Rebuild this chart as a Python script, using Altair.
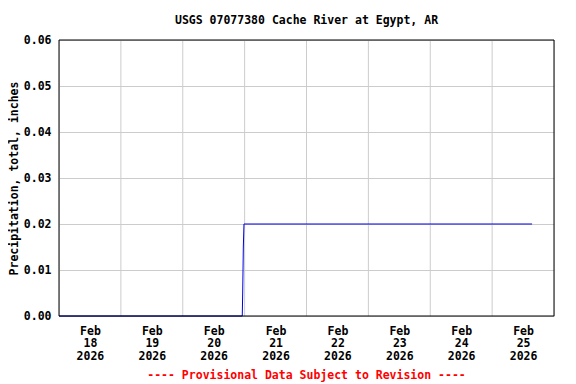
import altair as alt
import pandas as pd

# Data
times = ["2026-02-18T00:00:00", "2026-02-20T23:05:00", "2026-02-20T23:15:00",
         "2026-02-20T23:30:00", "2026-02-20T23:45:00", "2026-02-25T15:30:00"]
precip = [0.0, 0.0, 0.005, 0.015, 0.02, 0.02]

day_lines = ["2026-02-18T00:00:00", "2026-02-19T00:00:00", "2026-02-20T00:00:00",
             "2026-02-21T00:00:00", "2026-02-22T00:00:00", "2026-02-23T00:00:00",
             "2026-02-24T00:00:00", "2026-02-25T00:00:00", "2026-02-26T00:00:00"]
label_days = [18, 19, 20, 21, 22, 23, 24, 25]
y_ticks = [0.0, 0.01, 0.02, 0.03, 0.04, 0.05, 0.06]

title = "USGS 07077380 Cache River at Egypt, AR"
footer = "---- Provisional Data Subject to Revision ----"
y_title = "Precipitation, total, inches"

FONT = "DejaVu Sans Mono"
FS = 11.5
W, H = 495, 276


def to_ms(s):
    return int(pd.Timestamp(s, tz="UTC").value // 10**6)


df = pd.DataFrame({"t": [to_ms(s) for s in times], "v": precip})
grid_df = pd.DataFrame({"t": [to_ms(s) for s in day_lines[1:-1]]})
label_vals = [alt.DateTime(year=2026, month=2, date=d, hours=12, utc=True) for d in label_days]

xscale = alt.Scale(type="utc", domain=[to_ms(day_lines[0]), to_ms(day_lines[-1])], nice=False)

x_axis = alt.Axis(values=label_vals,
                  labelExpr="[utcFormat(datum.value, '%b'), utcFormat(datum.value, '%d'), utcFormat(datum.value, '%Y')]",
                  title=None, grid=False, ticks=False, domain=False,
                  labelAngle=0, labelAlign="center", labelBaseline="top", labelPadding=9,
                  labelLineHeight=12.8, labelFontSize=FS, labelFont=FONT,
                  labelFontWeight="bold", labelColor="black", labelOverlap=False)

grid = alt.Chart(grid_df).mark_rule(color="#cccccc", strokeWidth=1).encode(
    x=alt.X("t:T", scale=xscale, axis=x_axis)
)

line = alt.Chart(df).mark_line(color="#0000e0", strokeWidth=1, interpolate="linear").encode(
    x=alt.X("t:T", scale=xscale, axis=x_axis),
    y=alt.Y("v:Q", scale=alt.Scale(domain=[0, 0.06], nice=False),
            axis=alt.Axis(values=y_ticks, format=".2f", title=y_title,
                          grid=True, gridColor="#cccccc", ticks=False, domain=False,
                          labelPadding=8, labelFontSize=FS, labelFont=FONT,
                          labelFontWeight="bold", labelColor="black",
                          titleFont=FONT, titleFontSize=FS, titleFontWeight="bold",
                          titleColor="black", titlePadding=4))
)

frame = alt.Chart(pd.DataFrame({"a": [0]})).mark_rect(
    fill=None, fillOpacity=0, stroke="black", strokeWidth=1
).encode(x=alt.value(0), x2=alt.value(W), y=alt.value(0), y2=alt.value(H))

foot = alt.Chart(pd.DataFrame({"txt": [footer]})).mark_text(
    font=FONT, fontSize=FS, fontWeight="bold", color="#ff0000", baseline="middle"
).encode(x=alt.value(W / 2), y=alt.value(H + 60), text="txt:N")

chart = alt.layer(grid, line, frame, foot).properties(
    width=W, height=H,
    title=alt.TitleParams(title, font=FONT, fontSize=FS, fontWeight="bold",
                          color="black", anchor="middle", offset=8),
    padding={"left": 51, "top": 32, "right": 14, "bottom": 66},
    autosize=alt.AutoSizeParams(type="none"),
).configure_view(stroke=None).configure(background="white")

chart.save("out.html", embed_options={"renderer": "svg", "actions": False})
